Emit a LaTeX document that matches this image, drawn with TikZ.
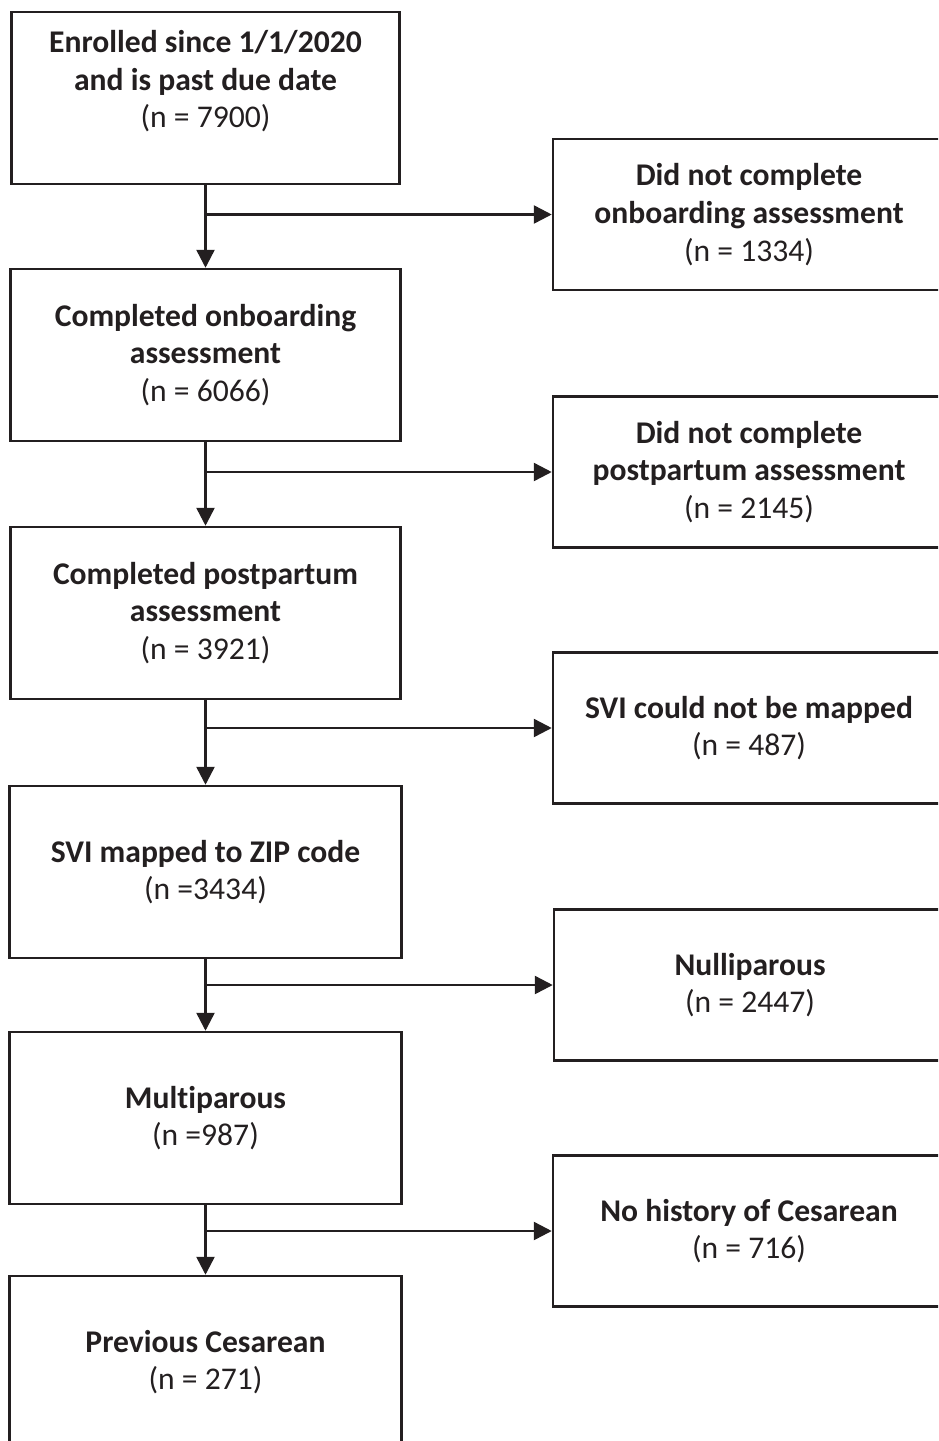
\documentclass[tikz,border=0pt]{standalone}
\usepackage{fontspec}
\setmainfont{Carlito}[Ligatures=NoCommon]
\usetikzlibrary{arrows.meta}
\definecolor{ink}{HTML}{231F20}

\begin{document}
\begin{tikzpicture}[x=0.5pt,y=-0.5pt,>={Triangle[width=9pt,length=9pt]},line width=1.25pt,
    box/.style={draw=ink,text=ink,rectangle,align=center,inner sep=0pt,font=\fontsize{15.8}{18.8}\selectfont},
    leftbox/.style={box,minimum width=195pt,minimum height=86pt},
    rightbox/.style={box,minimum width=196pt,minimum height=75.5pt}]
                \clip (0,0) rectangle (938,1441);
                % main column
                \node[leftbox,minimum width=194pt] (enrolled) at (205.5,98) {\textbf{Enrolled since 1/1/2020}\\\textbf{and is past due date}\\(n = 7900)\\\mbox{}};
                \node[leftbox] (onboard) at (205.5,355) {\textbf{Completed onboarding}\\\textbf{assessment}\\(n = 6066)};
                \node[leftbox] (postpart) at (205.5,613) {\textbf{Completed postpartum}\\\textbf{assessment}\\(n = 3921)};
                \node[leftbox,minimum width=196pt] (svimap) at (205.5,872) {\textbf{SVI mapped to ZIP code}\\(n =3434)};
                \node[leftbox,minimum width=196pt] (multi) at (205.5,1118) {\textbf{Multiparous}\\(n =987)};
                \node[leftbox,minimum width=196pt] (prevces) at (205.5,1362) {\textbf{Previous Cesarean}\\(n = 271)};
                % excluded
                \node[rightbox] (noonboard) at (749,214.5) {\textbf{Did not complete}\\\textbf{onboarding assessment}\\(n = 1334)};
                \node[rightbox] (nopostpart) at (749,472) {\textbf{Did not complete}\\\textbf{postpartum assessment}\\(n = 2145)};
                \node[rightbox] (nosvi) at (749,728) {\textbf{SVI could not be mapped}\\(n = 487)};
                \node[rightbox] (nullip) at (750,985) {\textbf{Nulliparous}\\(n = 2447)};
                \node[rightbox] (noces) at (749,1231) {\textbf{No history of Cesarean}\\(n = 716)};
                % arrows
                \draw[->,ink] (enrolled) -- (onboard);
                \draw[->,ink] (onboard) -- (postpart);
                \draw[->,ink] (postpart) -- (svimap);
                \draw[->,ink] (svimap) -- (multi);
                \draw[->,ink] (multi) -- (prevces);
                \draw[->,ink] (enrolled.south |- noonboard.west) -- (noonboard.west);
                \draw[->,ink] (onboard.south |- nopostpart.west) -- (nopostpart.west);
                \draw[->,ink] (postpart.south |- nosvi.west) -- (nosvi.west);
                \draw[->,ink] (svimap.south |- nullip.west) -- (nullip.west);
                \draw[->,ink] (multi.south |- noces.west) -- (noces.west);
            \end{tikzpicture}
\end{document}
